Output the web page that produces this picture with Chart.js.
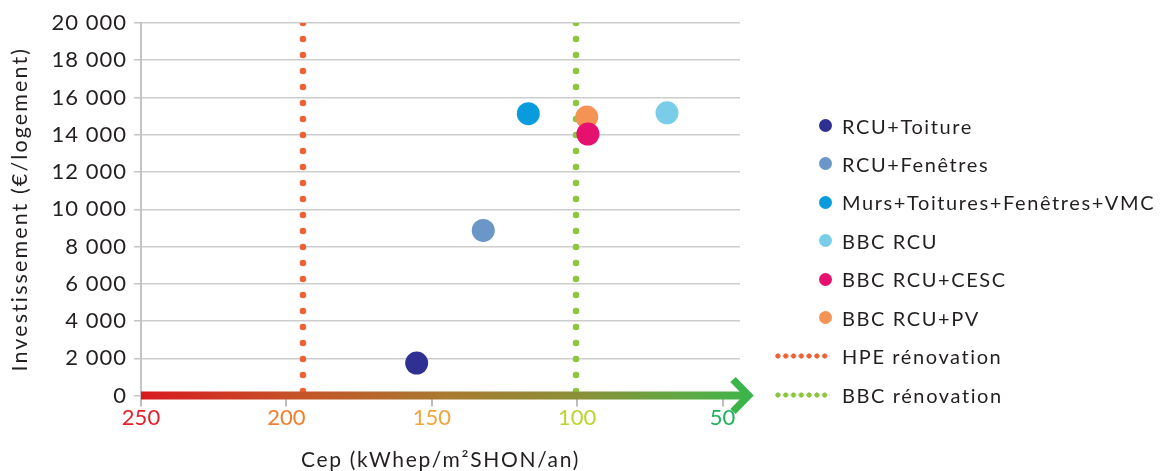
<!DOCTYPE html>
<html><head><meta charset="utf-8">
<script src="https://cdn.jsdelivr.net/npm/chart.js@4"></script>
<style>
html,body{margin:0;padding:0;background:#fff;}
#wrap{position:relative;width:1165px;height:471px;overflow:hidden;}
#legend{position:absolute;left:0;top:0;font-family:Lato,sans-serif;font-size:20px;letter-spacing:1.6px;color:#231F20;}
.li{position:absolute;left:770px;height:24px;line-height:24px;white-space:nowrap;}
.dot{position:absolute;width:13px;height:13px;border-radius:50%;left:48.5px;top:5.5px;}
.dash{position:absolute;left:4px;width:56px;height:6px;top:9px;}
.txt{position:absolute;left:72px;top:0;}
</style></head>
<body><div id="wrap"><canvas id="c" width="1165" height="471"></canvas><div id="legend"></div></div>
<script>
// ---- data ----
const categories = ['RCU+Toiture','RCU+Fenêtres','Murs+Toitures+Fenêtres+VMC','BBC RCU','BBC RCU+CESC','BBC RCU+PV'];
const cepValues = [155.2, 132.3, 116.8, 69.1, 96.3, 96.7];
const investValues = [1740, 8860, 15130, 15180, 14040, 14950];
const pointColors = ['#2E3192','#6A96C8','#0A9BDD','#7ACDE8','#E6106E','#F39455'];
const thresholdNames = ['HPE rénovation','BBC rénovation'];
const thresholdCep = [194.3, 100.4];
const thresholdColors = ['#EE6035','#8CC63F'];
const xTickValues = [250, 200, 150, 100, 50];
const xTickColors = ['#E5202A','#F07E2E','#F5A33B','#BCD431','#20B25A'];
const yMin = 0, yMax = 20000, yStep = 2000;

const FONT = 'Lato';
const TEXT = '#231F20';

const datasets = [];
categories.forEach((name, i) => {
  datasets.push({
    label: name,
    data: [{x: cepValues[i], y: investValues[i]}],
    backgroundColor: pointColors[i],
    borderColor: pointColors[i],
    borderWidth: 0,
    pointRadius: 11.5,
    pointHoverRadius: 11.5,
    kind: 'point'
  });
});
thresholdNames.forEach((name, i) => {
  datasets.push({
    label: name,
    data: [{x: thresholdCep[i], y: yMax}, {x: thresholdCep[i], y: yMin}],
    showLine: true,
    borderColor: thresholdColors[i],
    backgroundColor: thresholdColors[i],
    borderWidth: 6.5,
    borderDash: [0, 16],
    borderCapStyle: 'round',
    pointRadius: 0,
    kind: 'line'
  });
});

// letter spacing per scale text element (reference font is wider than Lato)
const spacing = {x: {title: '1.7px', labels: '0px'}, y: {title: '2.1px', labels: '1px'}};
const spacingPlugin = {
  id: 'letterSpacing',
  afterLayout(chart) {
    Object.keys(spacing).forEach(id => {
      const s = chart.scales[id];
      if (!s || s._lsPatched) return;
      s._lsPatched = true;
      const dt = s.drawTitle.bind(s), dl = s.drawLabels.bind(s);
      s.drawTitle = function (...a) { const c = this.ctx; c.save(); c.letterSpacing = spacing[id].title; dt(...a); c.restore(); };
      s.drawLabels = function (...a) { const c = this.ctx; c.save(); c.letterSpacing = spacing[id].labels; dl(...a); c.restore(); };
    });
  }
};

const arrowPlugin = {
  id: 'arrowAxis',
  afterDatasetsDraw(chart) {
    const {ctx, chartArea, scales} = chart;
    const y = scales.y.getPixelForValue(0);
    const x0 = chartArea.left;
    const tip = 753;
    const g = ctx.createLinearGradient(x0, 0, tip, 0);
    g.addColorStop(0, '#D8191F');
    g.addColorStop(0.25, '#C65228');
    g.addColorStop(0.5, '#A97A30');
    g.addColorStop(0.72, '#8A9038');
    g.addColorStop(0.9, '#5BAA44');
    g.addColorStop(1, '#3BB54A');
    ctx.save();
    ctx.fillStyle = g;
    ctx.fillRect(x0, y - 4, tip - 6 - x0, 8);
    ctx.strokeStyle = '#3BB54A';
    ctx.lineWidth = 7.5;
    ctx.lineJoin = 'miter';
    ctx.lineCap = 'butt';
    ctx.beginPath();
    ctx.moveTo(tip - 20, y - 16);
    ctx.lineTo(tip - 4.5, y);
    ctx.lineTo(tip - 20, y + 16);
    ctx.stroke();
    ctx.restore();
  }
};

const chart = new Chart(document.getElementById('c'), {
  type: 'scatter',
  data: {datasets},
  options: {
    responsive: false,
    animation: false,
    layout: {padding: {left: 0, right: 425, top: 23, bottom: 0}},
    plugins: {legend: {display: false}, tooltip: {enabled: false}},
    scales: {
      x: {
        type: 'linear', reverse: true, min: 44, max: 250,
        afterBuildTicks: (s) => { s.ticks = xTickValues.map(v => ({value: v})); },
        afterFit: (s) => { s.height = 75.5; },
        border: {display: false},
        grid: {drawOnChartArea: false, drawTicks: true, tickLength: 11, color: '#BDBDBD', lineWidth: 2},
        ticks: {
          padding: 0,
          font: {family: FONT, size: 22, lineHeight: 1},
          color: (c) => xTickColors[xTickValues.indexOf(c.tick.value)] || TEXT,
          callback: (v) => String(v)
        },
        title: {display: true, text: 'Cep (kWhep/m²SHON/an)', color: TEXT,
                font: {family: FONT, size: 21, lineHeight: 1}, padding: {top: 0, bottom: 0}}
      },
      y: {
        min: yMin, max: yMax,
        afterFit: (s) => { s.width = 141; },
        border: {display: true, color: '#C4C4C4', width: 2},
        grid: {color: '#CDCDCD', lineWidth: 1.5, tickLength: 7, tickColor: '#C4C4C4'},
        ticks: {
          stepSize: yStep, padding: 7,
          font: {family: FONT, size: 22}, color: TEXT,
          callback: (v) => String(v).replace(/\B(?=(\d{3})+(?!\d))/g, ' ')
        },
        title: {display: true, text: 'Investissement (€/logement)', color: TEXT,
                font: {family: FONT, size: 21.5}, padding: {top: 7, bottom: 0}}
      }
    }
  },
  plugins: [spacingPlugin, arrowPlugin]
});

// HTML legend built from the chart datasets
const legendEl = document.getElementById('legend');
chart.data.datasets.forEach((ds, i) => {
  const row = document.createElement('div');
  row.className = 'li';
  row.style.top = (113.5 + i * 38.45) + 'px';
  const m = document.createElement('div');
  if (ds.kind === 'point') {
    m.className = 'dot';
    m.style.background = ds.backgroundColor;
  } else {
    m.className = 'dash';
    m.style.background = 'radial-gradient(circle, ' + ds.borderColor + ' 2.3px, rgba(255,255,255,0) 2.9px) 0 0 / 7.8px 6px repeat-x';
  }
  const t = document.createElement('span');
  t.className = 'txt';
  t.textContent = ds.label;
  row.appendChild(m); row.appendChild(t);
  legendEl.appendChild(row);
});
</script>
</body></html>
